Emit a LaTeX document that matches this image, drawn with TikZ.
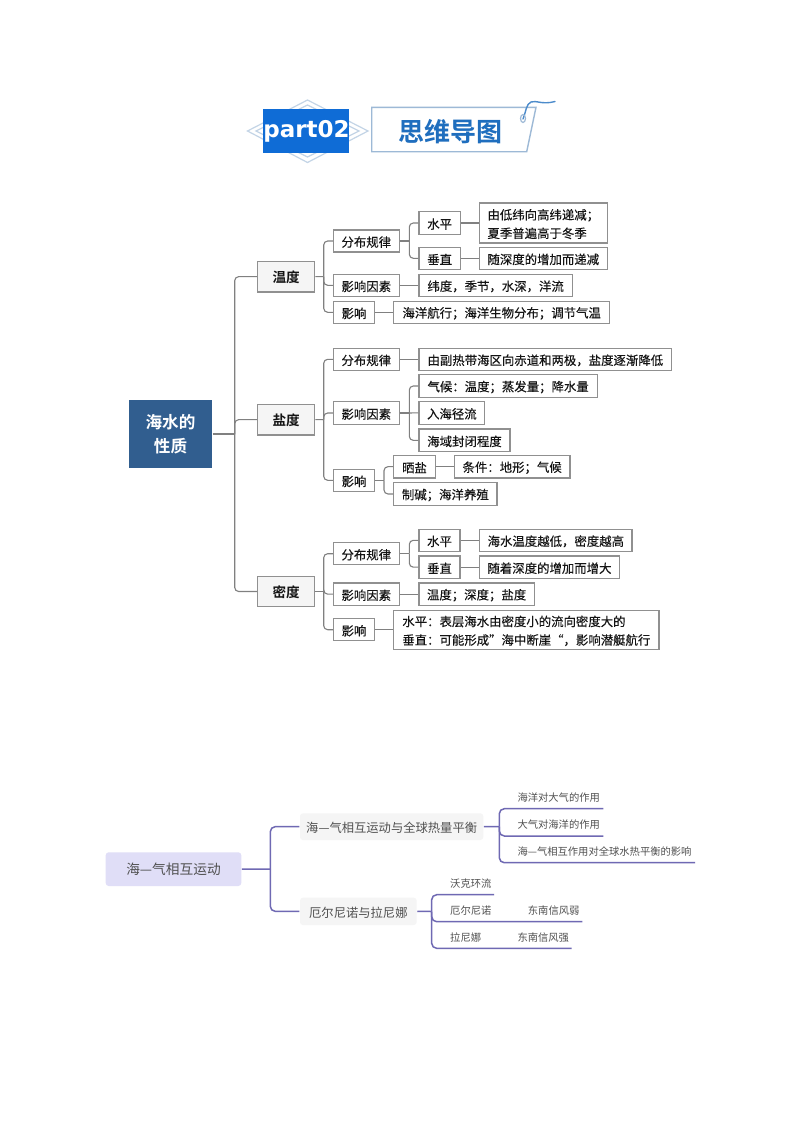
\documentclass[tikz,border=0pt]{standalone}
\usepackage{fontspec}
\setmainfont{Noto Sans CJK SC}[BoldFont={Noto Sans CJK SC Bold}]
\newfontfamily\latinbold{DejaVu Sans Bold}
\newfontfamily\mapfont{Noto Sans CJK SC}[FakeBold=0.25]
\definecolor{boxline}{HTML}{909090}
\definecolor{connline}{HTML}{808080}
\definecolor{rootblue}{HTML}{315E8F}
\definecolor{partblue}{HTML}{0F6CD6}
\definecolor{headblue}{HTML}{1F6EBE}
\definecolor{frameblue}{HTML}{9DB9D6}
\definecolor{diamondblue}{HTML}{C3D4E6}
\definecolor{lilac}{HTML}{E0DEF7}
\definecolor{purpleline}{HTML}{6F69B3}
\definecolor{softgrey}{HTML}{F5F5F5}
\definecolor{softtext}{HTML}{505050}
\newcommand\bx[7][]{%
  \pgfmathsetmacro\bxcx{(#3+#5)/2}\pgfmathsetmacro\bxcy{(#4+#6)/2}%
  \pgfmathsetmacro\bxw{#5-#3}\pgfmathsetmacro\bxh{#6-#4}%
  \node[mapbox,minimum width=\bxw pt,minimum height=\bxh pt,#1] (#2) at (\bxcx,\bxcy) {\rule{0pt}{12.6pt}#7};}
\tikzset{
  mapbox/.style={draw=boxline,line width=1.1pt,fill=white,inner sep=0pt,align=left,
    font=\fontsize{12.4}{18.5}\mapfont,text=black!92},
  mainbox/.style={fill=black!4,font=\fontsize{13.6}{16}\selectfont\bfseries},
  rootbox/.style={draw=none,fill=rootblue,text=white,align=center,font=\fontsize{16.6}{24}\selectfont\bfseries},
  conn/.style={draw=connline,line width=1.1pt,rounded corners=4pt},
  softconn/.style={draw=purpleline,line width=1.5pt,rounded corners=5pt},
  softbox/.style={draw=none,fill=softgrey,rounded corners=3pt,text=softtext,font=\fontsize{12.3}{15}\selectfont},
  softroot/.style={draw=none,fill=lilac,rounded corners=3pt,text=softtext,font=\fontsize{13.7}{16}\selectfont},
  softleaf/.style={anchor=west,inner sep=0pt,text=softtext,font=\fontsize{10.3}{13}\selectfont},
  diamondline/.style={draw=diamondblue,line width=1.2pt,fill=none},
}
\begin{document}
\begin{tikzpicture}[x=1pt,y=-1pt]
\useasboundingbox[fill=white] (0,0) rectangle (800,1132);
% header
\draw[diamondline] (247.5,131) -- (307.5,100) -- (368,131) -- (307.5,162.5) -- cycle;
\draw[diamondline] (256,131) -- (307.5,105) -- (359,131) -- (307.5,157) -- cycle;
\fill[partblue] (263.3,109.3) rectangle (349.3,153.3);
\node[inner sep=0pt,text=white,font=\fontsize{23}{26}\latinbold] (parttext) at (306.5,131) {part02};
\draw[frameblue,line width=1.4pt] (371.7,107.3) -- (536,107.3) -- (526.7,151.7) -- (371.7,151.7) -- cycle;
\node[inner sep=0pt,text=headblue,font=\fontsize{26}{30}\selectfont\bfseries] (headtext) at (450,131.5) {思维导图};
\draw[headblue!80,line width=1.4pt,line cap=round] (523,119) .. controls (526,112) and (526,104) .. (531,102) .. controls (536,100) and (542,105) .. (555,101.5);
\draw[frameblue,line width=1.2pt] (523,118.5) circle[x radius=2.5pt,y radius=4pt];
% root
\bx[rootbox]{root}{129}{400}{212}{468}{海水的\\性质}
% temperature
\bx[mainbox]{wendu}{257.7}{261.3}{314.7}{292}{温度}
\bx{wfb}{333.3}{230}{399.3}{252}{分布规律}
\bx{wsp}{419}{211.7}{460.3}{234.3}{水平}
\bx{wcz}{419}{247.3}{460.3}{269.3}{垂直}
\bx{wspt}{479.3}{203}{607.3}{243}{由低纬向高纬递减；\\夏季普遍高于冬季}
\bx{wczt}{479.3}{247.3}{607.3}{269.3}{随深度的增加而递减}
\bx{wyy}{333.3}{274.3}{399.3}{296.3}{影响因素}
\bx{wyyt}{419}{274.3}{572.3}{296.3}{纬度，季节，水深，洋流}
\bx{wyx}{333.3}{301.3}{374.7}{323.3}{影响}
\bx{wyxt}{393.7}{301.3}{609.7}{323.3}{海洋航行；海洋生物分布；调节气温}
% salinity
\bx[mainbox]{yandu}{257.7}{404.3}{314.7}{435}{盐度}
\bx{yfb}{333.3}{348.3}{399.3}{370.3}{分布规律}
\bx{yfbt}{419}{348.3}{671.7}{370.3}{由副热带海区向赤道和两极，盐度逐渐降低}
\bx{yyy}{333.3}{401.7}{399.3}{424.3}{影响因素}
\bx{yqh}{419}{374.7}{597.3}{397.3}{气候：温度；蒸发量；降水量}
\bx{yrh}{419}{401.3}{484.7}{424.3}{入海径流}
\bx{yhy}{419}{429}{510}{451.7}{海域封闭程度}
\bx{yyx}{333.3}{469.3}{374.7}{491.3}{影响}
\bx{yss}{393.7}{455.3}{435.3}{478}{晒盐}
\bx{ytj}{454.3}{455.3}{570}{478}{条件：地形；气候}
\bx{yzj}{393.7}{482.7}{497}{505.3}{制碱；海洋养殖}
% density
\bx[mainbox]{midu}{257.7}{576.3}{314.7}{606.7}{密度}
\bx{mfb}{333.3}{542.7}{399.3}{564.7}{分布规律}
\bx{msp}{419}{529.3}{460}{551.3}{水平}
\bx{mspt}{479.7}{529.3}{632}{551.3}{海水温度越低，密度越高}
\bx{mcz}{419}{556}{460}{578.3}{垂直}
\bx{mczt}{479.7}{556}{619.3}{578.3}{随着深度的增加而增大}
\bx{myy}{333.3}{583}{399.3}{605.3}{影响因素}
\bx{myyt}{419}{583}{534.3}{605.3}{温度；深度；盐度}
\bx{myx}{333.3}{618.7}{374.7}{640.7}{影响}
\bx{myxt}{393.7}{610.3}{659}{649.3}{水平：表层海水由密度小的流向密度大的\\垂直：可能形成”海中断崖“，影响潜艇航行}
% junctions of the upper map
\coordinate (jroot) at (234.7,434);
\coordinate (jw) at (323.7,276.7);
\coordinate (jwf) at (409.3,241);
\coordinate (jy) at (323.7,419.7);
\coordinate (jyy) at (409.3,413);
\coordinate (jyx) at (384,480.3);
\coordinate (jm) at (323.7,591.5);
\coordinate (jmf) at (409.3,553.7);
% connectors of the upper map
\draw[conn] (root.east) -- (jroot);
\draw[conn] (jroot) |- (wendu.west);
\draw[conn] (jroot) |- (yandu.west);
\draw[conn] (jroot) |- (midu.west);
\draw[conn] (wendu.east) -- (jw);
\draw[conn] (jw) |- (wfb.west);
\draw[conn] (jw) |- (wyy.west);
\draw[conn] (jw) |- (wyx.west);
\draw[conn] (wfb.east) -- (jwf);
\draw[conn] (jwf) |- (wsp.west);
\draw[conn] (jwf) |- (wcz.west);
\draw[conn] (wsp.east) -- (wspt.west |- wsp.east);
\draw[conn] (wcz.east) -- (wczt.west);
\draw[conn] (wyy.east) -- (wyyt.west);
\draw[conn] (wyx.east) -- (wyxt.west);
\draw[conn] (yandu.east) -- (jy);
\draw[conn] (jy) |- (yfb.west);
\draw[conn] (jy) |- (yyy.west);
\draw[conn] (jy) |- (yyx.west);
\draw[conn] (yfb.east) -- (yfbt.west);
\draw[conn] (yyy.east) -- (jyy);
\draw[conn] (jyy) |- (yqh.west);
\draw[conn] (jyy) -- (yrh.west);
\draw[conn] (jyy) |- (yhy.west);
\draw[conn] (yyx.east) -- (jyx);
\draw[conn] (jyx) |- (yss.west);
\draw[conn] (jyx) |- (yzj.west);
\draw[conn] (yss.east) -- (ytj.west);
\draw[conn] (midu.east) -- (jm);
\draw[conn] (jm) |- (mfb.west);
\draw[conn] (jm) |- (myy.west);
\draw[conn] (jm) |- (myx.west);
\draw[conn] (mfb.east) -- (jmf);
\draw[conn] (jmf) |- (msp.west);
\draw[conn] (jmf) |- (mcz.west);
\draw[conn] (msp.east) -- (mspt.west);
\draw[conn] (mcz.east) -- (mczt.west);
\draw[conn] (myy.east) -- (myyt.west);
\draw[conn] (myx.east) -- (myxt.west |- myx.east);
% lower map
\bx[softroot]{sroot}{105.7}{852.3}{241.3}{886}{海—气相互运动}
\bx[softbox]{sa}{300}{813.3}{483.3}{840}{海—气相互运动与全球热量平衡}
\bx[softbox]{sb}{300}{897.7}{416.7}{925}{厄尔尼诺与拉尼娜}
\node[softleaf] (a1) at (517.3,797.3) {海洋对大气的作用};
\node[softleaf] (a2) at (517.3,824.7) {大气对海洋的作用};
\node[softleaf] (a3) at (517.3,851.7) {海—气相互作用对全球水热平衡的影响};
\node[softleaf] (b1) at (450,883.3) {沃克环流};
\node[softleaf] (b2) at (450,910.7) {厄尔尼诺};
\node[softleaf] (b2x) at (527.7,910.7) {东南信风弱};
\node[softleaf] (b3) at (450,937.3) {拉尼娜};
\node[softleaf] (b3x) at (517.3,937.3) {东南信风强};
\coordinate (js) at (270.3,869);
\coordinate (ja) at (499.3,826.5);
\coordinate (jb) at (431.7,911.5);
\coordinate (a1e) at (603.3,808.7);
\coordinate (a2e) at (603.3,836);
\coordinate (a3e) at (695,862.7);
\coordinate (b1e) at (494,894.7);
\coordinate (b2e) at (582.3,921.7);
\coordinate (b3e) at (571.7,948.3);
\draw[softconn] (sroot.east) -- (js);
\draw[softconn] (js) |- (sa.west);
\draw[softconn] (js) |- (sb.west);
\draw[softconn] (sa.east) -- (ja);
\draw[softconn] (ja) |- (a1e);
\draw[softconn] (ja) |- (a2e);
\draw[softconn] (ja) |- (a3e);
\draw[softconn] (sb.east) -- (jb);
\draw[softconn] (jb) |- (b1e);
\draw[softconn] (jb) |- (b2e);
\draw[softconn] (jb) |- (b3e);
\end{tikzpicture}
\end{document}
